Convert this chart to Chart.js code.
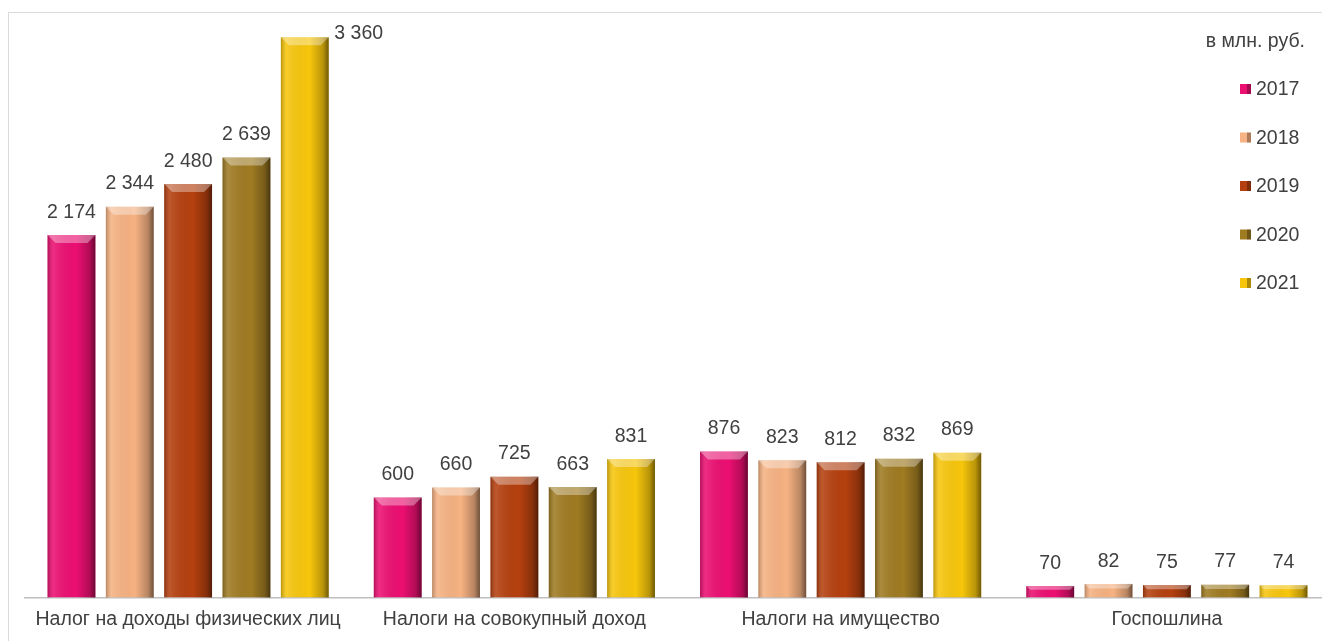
<!DOCTYPE html>
<html>
<head>
<meta charset="utf-8">
<script src="https://cdn.jsdelivr.net/npm/chart.js@4/dist/chart.umd.min.js"></script>
<style>
  html, body { margin: 0; padding: 0; background: #fff; overflow: hidden; }
  #wrap { position: absolute; left: 0; top: 0; width: 1322px; height: 641px; overflow: hidden; }
  #frame { position: absolute; left: 8px; top: 12px; width: 1330px; height: 640px; border: 1px solid #d9d9d9; box-sizing: border-box; }
  #box { position: absolute; left: 8px; top: 12px; width: 1322px; height: 629px; }
</style>
</head>
<body>
<div id="wrap">
  <div id="frame"></div>
  <div id="box"><canvas id="nalogi"></canvas></div>
</div>
<script>
// данные (млн. руб.)
const kategorii = ["Налог на доходы физических лиц", "Налоги на совокупный доход", "Налоги на имущество", "Госпошлина"];
const gody = ["2017", "2018", "2019", "2020", "2021"];
const y2017 = [2174, 600, 876, 70];
const y2018 = [2344, 660, 823, 82];
const y2019 = [2480, 725, 812, 75];
const y2020 = [2639, 663, 832, 77];
const y2021 = [3360, 831, 869, 74];
const edinica = "в млн. руб.";

const cveta = ["#ec0f72", "#f6b282", "#b5400f", "#9f7b22", "#f7c60c"];
const shrift = "Liberation Sans, Arial, sans-serif";
const razmer = 19.5;
const tekst = "#404040";

const fmt = (v) => String(v).replace(/\B(?=(\d{3})+(?!\d))/g, " ");

// объём столбиков: боковое затемнение и блик сверху
const obyom = {
  id: "obyom",
  afterDatasetsDraw(chart) {
    const ctx = chart.ctx;
    chart.data.datasets.forEach((ds, i) => {
      chart.getDatasetMeta(i).data.forEach((bar) => {
        const l = bar.x - bar.width / 2, r = bar.x + bar.width / 2;
        const t = bar.y, b = bar.base, h = b - t;
        ctx.save();
        const g = ctx.createLinearGradient(l, 0, r, 0);
        g.addColorStop(0, "rgba(0,0,0,0.25)");
        g.addColorStop(0.12, "rgba(255,255,255,0.12)");
        g.addColorStop(0.6, "rgba(0,0,0,0)");
        g.addColorStop(0.88, "rgba(0,0,0,0.25)");
        g.addColorStop(1, "rgba(0,0,0,0.55)");
        ctx.fillStyle = g;
        ctx.fillRect(l, t, r - l, h);
        const bev = Math.min(8, h / 3);
        ctx.beginPath();
        ctx.moveTo(l, t);
        ctx.lineTo(r, t);
        ctx.lineTo(r - bev, t + bev);
        ctx.lineTo(l + bev, t + bev);
        ctx.closePath();
        ctx.fillStyle = "rgba(255,255,255,0.35)";
        ctx.fill();
        ctx.restore();
      });
    });
  },
};

// подписи значений
const podpisi = {
  id: "podpisi",
  afterDatasetsDraw(chart) {
    const ctx = chart.ctx;
    ctx.save();
    ctx.font = razmer + "px " + shrift;
    ctx.fillStyle = tekst;
    ctx.textAlign = "center";
    ctx.textBaseline = "bottom";
    chart.data.datasets.forEach((ds, i) => {
      chart.getDatasetMeta(i).data.forEach((bar, j) => {
        if (ds.data[j] > 3000) {
          ctx.fillText(fmt(ds.data[j]), bar.x + bar.width / 2 + 30, bar.y + 6);
          return;
        }
        ctx.fillText(fmt(ds.data[j]), bar.x, bar.y - 13);
      });
    });
    ctx.restore();
  },
};

// легенда справа поверх области графика
const legenda = {
  id: "legenda",
  afterDraw(chart) {
    const ctx = chart.ctx;
    ctx.save();
    ctx.font = razmer + "px " + shrift;
    ctx.fillStyle = tekst;
    ctx.textBaseline = "middle";
    ctx.textAlign = "right";
    ctx.fillText(edinica, 1297, 30);
    ctx.textAlign = "left";
    chart.data.datasets.forEach((ds, i) => {
      const y = 77 + i * 48.5;
      ctx.fillStyle = ds.backgroundColor;
      ctx.fillRect(1232, y - 5, 11, 10);
      ctx.fillStyle = "rgba(0,0,0,0.3)";
      ctx.fillRect(1239, y - 5, 4, 10);
      ctx.fillStyle = tekst;
      ctx.fillText(ds.label, 1248, y + 1);
    });
    ctx.restore();
  },
};

new Chart(document.getElementById("nalogi"), {
  type: "bar",
  data: {
    labels: kategorii,
    datasets: [
      { label: gody[0], data: y2017, backgroundColor: cveta[0] },
      { label: gody[1], data: y2018, backgroundColor: cveta[1] },
      { label: gody[2], data: y2019, backgroundColor: cveta[2] },
      { label: gody[3], data: y2020, backgroundColor: cveta[3] },
      { label: gody[4], data: y2021, backgroundColor: cveta[4] },
    ],
  },
  options: {
    responsive: true,
    maintainAspectRatio: false,
    animation: false,
    categoryPercentage: 0.894,
    barPercentage: 0.82,
    layout: { padding: { left: 17, right: 0, top: 2, bottom: 0 } },
    scales: {
      x: {
        grid: { display: false, drawTicks: false, tickLength: 0 },
        border: { display: true, color: "#bfbfbf", width: 1.5 },
        ticks: { color: tekst, font: { family: shrift, size: razmer }, padding: 10, maxRotation: 0 },
      },
      y: {
        display: false,
        beginAtZero: true,
        max: 3500,
      },
    },
    plugins: {
      legend: { display: false },
      tooltip: { enabled: false },
    },
  },
  plugins: [obyom, podpisi, legenda],
});
</script>
</body>
</html>
